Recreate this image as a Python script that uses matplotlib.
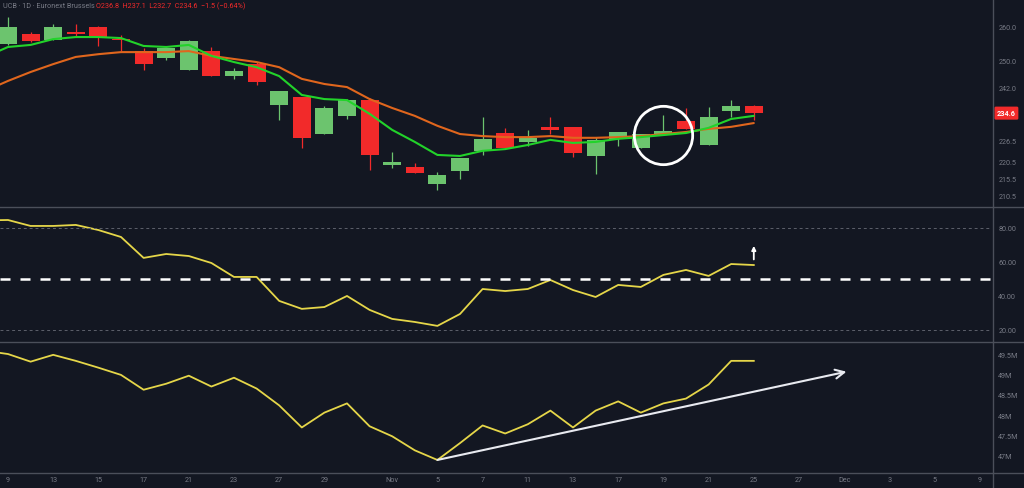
import matplotlib
matplotlib.use("Agg")
import matplotlib.pyplot as plt
from matplotlib.lines import Line2D
import numpy as np

# ---- data ----
# daily candles, bar index 0..33
opens = [254.8, 257.7, 255.9, 258.1, 259.7, 256.1, 252.7, 250.7, 247.2, 252.7,
         245.4, 248.9, 237.0, 239.3, 228.5, 233.8, 238.4, 219.5, 218.9, 213.9,
         217.7, 223.6, 228.8, 226.2, 230.6, 230.6, 222.1, 227.1, 224.4, 228.2,
         232.3, 225.3, 235.2, 236.8]
highs = [262.6, 258.3, 260.6, 260.6, 260.0, 257.4, 253.6, 253.9, 255.9, 253.9,
         247.8, 249.5, 241.1, 239.3, 236.7, 238.7, 239.0, 223.3, 220.1, 217.4,
         221.5, 233.5, 230.3, 229.7, 233.5, 230.6, 227.6, 229.1, 228.5, 234.1,
         236.1, 236.4, 238.4, 237.1]
lows = [254.5, 255.3, 255.9, 256.8, 254.2, 252.7, 247.2, 250.1, 247.2, 245.4,
        244.6, 242.8, 232.6, 224.4, 228.5, 232.9, 218.0, 218.6, 217.1, 212.2,
        215.4, 222.4, 224.4, 225.0, 228.5, 221.8, 216.9, 225.0, 224.4, 228.2,
        230.0, 225.3, 233.5, 232.7]
closes = [259.7, 255.6, 259.7, 257.8, 256.8, 255.8, 248.9, 253.6, 255.6, 245.4,
          246.9, 243.7, 241.1, 227.3, 236.1, 238.4, 222.4, 220.4, 217.1, 216.6,
          221.5, 227.1, 224.4, 227.3, 229.7, 223.0, 226.8, 229.1, 228.5, 229.4,
          230.0, 233.5, 236.7, 234.6]

# moving averages, bar index -1..33
ma_fast = [251.0, 253.9, 254.5, 256.2, 256.8, 256.8, 256.5, 254.2, 253.9, 254.5,
           251.3, 249.5, 248.0, 245.4, 239.9, 238.7, 238.4, 234.4, 229.7, 226.2,
           222.4, 222.1, 223.6, 224.1, 225.3, 226.8, 225.9, 226.2, 227.1, 227.6,
           228.2, 228.8, 230.3, 232.9, 233.8]
ma_slow = [241.1, 244.0, 246.6, 248.9, 251.0, 251.8, 252.4, 252.4, 252.4, 252.7,
           251.3, 250.4, 249.5, 248.0, 244.6, 243.1, 242.2, 238.7, 236.1, 233.8,
           230.9, 228.5, 227.9, 227.6, 227.6, 227.9, 227.4, 227.4, 227.6, 227.9,
           228.5, 229.1, 230.0, 230.6, 231.7]

# RSI, bar index -1..33
rsi = [84.5, 84.7, 81.2, 81.2, 81.8, 78.8, 74.7, 62.4, 64.7, 63.5,
       59.4, 51.2, 51.2, 37.1, 32.4, 33.5, 40.0, 31.8, 26.5, 24.7,
       22.4, 29.4, 44.1, 42.9, 44.1, 49.4, 43.5, 39.4, 46.5, 45.3,
       52.4, 55.3, 51.8, 58.8, 58.2]

# on-balance volume (millions), bar index -1..33
obv = [49.60, 49.52, 49.33, 49.50, 49.35, 49.18, 49.00, 48.63, 48.78, 48.98,
       48.71, 48.93, 48.66, 48.24, 47.69, 48.06, 48.29, 47.72, 47.47, 47.12,
       46.88, 47.30, 47.74, 47.54, 47.77, 48.11, 47.69, 48.11, 48.34, 48.06,
       48.29, 48.41, 48.76, 49.35, 49.35]

price_ticks = [260.0, 250.0, 242.0, 226.5, 220.5, 215.5, 210.5]
rsi_ticks = [80, 60, 40, 20]
obv_ticks = [49.5, 49.0, 48.5, 48.0, 47.5, 47.0]
obv_tick_labels = ["49.5M", "49M", "48.5M", "48M", "47.5M", "47M"]
date_pos = [0, 2, 4, 6, 8, 10, 12, 14, 17, 19, 21, 23, 25, 27, 29, 31, 33, 35, 37, 39, 41, 43]
date_labels = ["9", "13", "15", "17", "21", "23", "27", "29", "Nov", "5", "7", "11",
               "13", "17", "19", "21", "25", "27", "Dec", "3", "5", "9"]

last_price = 234.6
circle_bar, circle_price = 29, 228.2
trend_start = (19, 46.88)
trend_end = (37.1, 49.08)

# ---- style ----
bg = "#131722"
txt = "#787b86"
sep = "#4b4f5a"
up_col = "#6cc46e"
dn_col = "#f22a2a"
font = "Roboto"
fs = 5.2

W, H = 1024, 489
fig = plt.figure(figsize=(W / 100, H / 100), dpi=100, facecolor=bg)


def panel(top, bottom):
    ax = fig.add_axes([0, 1 - bottom / H, 992 / W, (bottom - top) / H])
    ax.set_facecolor(bg)
    for s in ax.spines.values():
        s.set_visible(False)
    ax.yaxis.tick_right()
    ax.tick_params(axis="y", length=0, pad=4.5, labelsize=fs, labelcolor=txt)
    ax.tick_params(axis="x", length=0, labelbottom=False)
    ax.set_xlim(-0.354, 43.54)
    return ax


ax1 = panel(0, 207)
ax2 = panel(208, 342)
ax3 = panel(343, 473)

idx = np.arange(len(opens))
idx_ext = np.arange(-1, len(opens))

# candles
o = np.array(opens)
c = np.array(closes)
colors = [up_col if cc >= oo else dn_col for oo, cc in zip(o, c)]
ax1.vlines(idx, lows, highs, colors=colors, lw=0.9)
body = np.maximum(np.abs(c - o), 0.35)
ax1.bar(idx, body, bottom=np.minimum(o, c), width=0.8, color=colors, lw=0)

ax1.plot(idx_ext, ma_slow, color="#e0661d", lw=1.5, solid_capstyle="round")
ax1.plot(idx_ext, ma_fast, color="#22d32a", lw=1.5, solid_capstyle="round")

ax1.plot([circle_bar], [circle_price], marker="o", ms=42, mfc="none", mec="white", mew=2.0)

ax1.set_ylim(207.5, 267.9)
ax1.set_yticks(price_ticks)
ax1.set_yticklabels([f"{t:.1f}" for t in price_ticks], fontfamily=font)

ax1.text(1.005, last_price, f"{last_price:.1f}", transform=ax1.get_yaxis_transform(),
         ha="left", va="center", fontsize=fs, color="white", fontfamily=font,
         fontweight="bold", clip_on=False,
         bbox=dict(boxstyle="round,pad=0.35,rounding_size=0.2", fc=dn_col, ec="none"))

# header
fig.text(3 / W, 1 - 6 / H, "UCB · 1D · Euronext Brussels", fontsize=fs, color=txt,
         fontfamily=font, va="center", ha="left")
fig.text(96 / W, 1 - 6 / H, "O236.8  H237.1  L232.7  C234.6  −1.5 (−0.64%)", fontsize=fs,
         color=dn_col, fontfamily=font, va="center", ha="left")

# RSI
ax2.plot(idx_ext, rsi, color="#e5d649", lw=1.3)
for lvl in (80, 20):
    ax2.axhline(lvl, color="#5d606b", lw=0.7, ls=(0, (3, 3)))
ax2.axhline(50, color="white", lw=1.8, ls=(0, (4, 4)))
ax2.annotate("", xy=(33, 69.5), xytext=(33, 61.5),
             arrowprops=dict(arrowstyle="-|>", color="white", lw=1.3, mutation_scale=6,
                             shrinkA=0, shrinkB=0))
ax2.set_ylim(13.5, 92.35)
ax2.set_yticks(rsi_ticks)
ax2.set_yticklabels([f"{t:.2f}" for t in rsi_ticks], fontfamily=font)

# OBV
ax3.plot(idx_ext, obv, color="#e5d649", lw=1.3)
ax3.annotate("", xy=trend_end, xytext=trend_start,
             arrowprops=dict(arrowstyle="->", color="#e8eaf0", lw=1.5, mutation_scale=16,
                             shrinkA=0, shrinkB=0))
ax3.set_ylim(46.58, 49.82)
ax3.set_yticks(obv_ticks)
ax3.set_yticklabels(obv_tick_labels, fontfamily=font)
ax3.set_xticks(date_pos)
ax3.set_xticklabels(date_labels, fontfamily=font)
ax3.tick_params(axis="x", labelbottom=True, pad=3, labelsize=fs, labelcolor=txt)

# separators
for y in (207.5, 342.5, 473.5):
    fig.add_artist(Line2D([0, 1], [1 - y / H, 1 - y / H], color=sep, lw=1.0,
                          transform=fig.transFigure))
fig.add_artist(Line2D([992.5 / W, 992.5 / W], [0, 1], color=sep, lw=1.0,
                      transform=fig.transFigure))

fig.savefig("out.png", dpi=100, facecolor=bg)
